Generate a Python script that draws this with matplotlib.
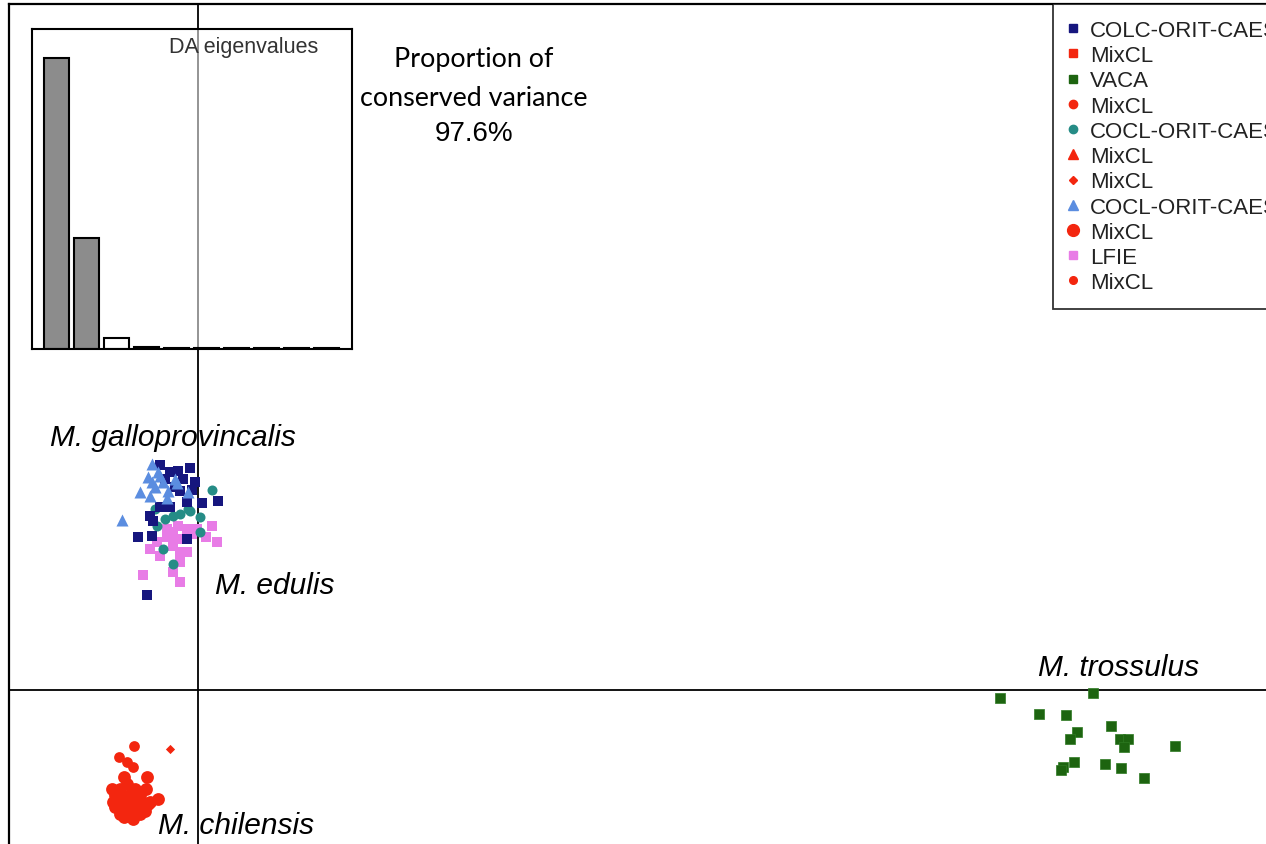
import matplotlib
matplotlib.use("Agg")
import matplotlib.pyplot as plt
from matplotlib.lines import Line2D

# ----------------------------------------------------------------------
#   Data: discriminant function scores (LD1, LD2) per group
# ----------------------------------------------------------------------

gal_tri_x = [-0.66, -0.57, -0.54, -0.66, -0.50, -0.33, -0.30, -0.43, -0.69, -0.44,
             -0.83, -1.09, -0.14, -0.61, -0.71]
gal_tri_y = [3.23, 3.11, 3.06, 2.97, 2.97, 3.01, 2.96, 2.84, 2.77, 2.74,
             2.83, 2.43, 2.83, 2.90, 3.04]

colc_x = [-0.54, -0.29, -0.11, -0.40, -0.47, -0.21, -0.04, -0.26, -0.09, -0.16, 0.06,
          0.29, -0.54, -0.40, -0.69, -0.64, -0.86, -0.66, -0.16, -0.73, -0.33]
colc_y = [3.21, 3.13, 3.17, 3.11, 3.01, 3.01, 2.97, 2.84, 2.86, 2.69, 2.67,
          2.70, 2.61, 2.61, 2.49, 2.41, 2.19, 2.20, 2.16, 1.36, 2.90]

cocl_x = [0.20, -0.11, 0.03, -0.36, -0.47, -0.59, -0.61, 0.03, -0.50, -0.36, -0.14, -0.26]
cocl_y = [2.86, 2.56, 2.47, 2.49, 2.44, 2.34, 2.59, 2.26, 2.01, 1.80, 2.59, 2.51]

lfie_x = [0.20, 0.27, 0.11, -0.16, -0.29, -0.36, -0.44, -0.59, -0.69, -0.54, -0.36,
          -0.26, -0.26, -0.36, -0.26, -0.79, -0.01, -0.09, -0.44, -0.16, -0.30]
lfie_y = [2.34, 2.11, 2.19, 2.30, 2.34, 2.26, 2.19, 2.11, 2.01, 1.91, 2.06,
          1.97, 1.83, 1.69, 1.54, 1.64, 2.30, 2.23, 2.30, 1.97, 2.16]

vaca_x = [11.46, 12.79, 12.01, 12.40, 13.04, 12.56, 12.46, 13.17, 13.29, 13.23, 13.96,
          12.51, 12.36, 12.33, 12.96, 13.19, 13.51]
vaca_y = [-0.11, -0.04, -0.34, -0.36, -0.51, -0.59, -0.69, -0.70, -0.70, -0.81, -0.80,
          -1.03, -1.09, -1.14, -1.06, -1.11, -1.26]

mix_small_x = [-0.91, -1.13, -1.01, -0.93]
mix_small_y = [-0.79, -0.96, -1.03, -1.10]

mix_dia_x = [-0.40]
mix_dia_y = [-0.84]

mix_big_x = [-1.06, -1.01, -0.73, -0.74, -0.57, -0.69, -1.19, -1.23, -1.11, -0.97, -0.83,
             -1.14, -1.00, -0.86, -0.71, -1.11, -0.97, -0.83, -1.19, -0.90, -1.04, -0.76,
             -0.93, -1.09, -1.17, -1.03, -0.89, -0.80, -1.06, -0.94, -1.21]
mix_big_y = [-1.24, -1.34, -1.24, -1.41, -1.56, -1.60, -1.49, -1.41, -1.41, -1.49, -1.49,
             -1.63, -1.63, -1.63, -1.63, -1.77, -1.77, -1.77, -1.67, -1.41, -1.56, -1.73,
             -1.84, -1.73, -1.56, -1.70, -1.70, -1.60, -1.81, -1.55, -1.59]

eigenvalues = [262.0, 100.0, 9.9, 1.8, 1.0, 0.9, 0.8, 0.7, 0.6, 0.5]
n_retained = 2

species = [("M. galloprovincalis", -2.11, 3.61),
           ("M. edulis", 0.24, 1.51),
           ("M. trossulus", 12.00, 0.33),
           ("M. chilensis", -0.57, -1.93)]

legend_labels = ["COLC-ORIT-CAES", "MixCL", "VACA", "MixCL", "COCL-ORIT-CAES", "MixCL",
                 "MixCL", "COCL-ORIT-CAES", "MixCL", "LFIE", "MixCL"]

# ----------------------------------------------------------------------
#   Colours
# ----------------------------------------------------------------------
navy = '#16167e'
red = '#f3260f'
green = '#1d6410'
teal = '#258c86'
lblue = '#5b8de0'
pink = '#e87ce6'

# ----------------------------------------------------------------------
#   Figure
# ----------------------------------------------------------------------
fig = plt.figure(figsize=(12.66, 8.45), dpi=100)
W, H = 1266.0, 845.0

ax = fig.add_axes([9 / W, -15 / H, 1271 / W, 855 / H])
ax.set_xlim(-2.70, 15.46)
ax.set_ylim(-2.41, 9.80)
ax.set_xticks([])
ax.set_yticks([])
for sp in ax.spines.values():
    sp.set_linewidth(1.6)
ax.axvline(0, color='black', lw=1.3, zorder=1)
ax.axhline(0, color='black', lw=1.3, zorder=1)

ax.scatter(mix_big_x, mix_big_y, s=85, marker='o', color=red, lw=0, zorder=3)
ax.scatter(mix_small_x, mix_small_y, s=60, marker='o', color=red, lw=0, zorder=3)
ax.scatter(mix_dia_x, mix_dia_y, s=22, marker='D', color=red, lw=0, zorder=3)
ax.scatter(vaca_x, vaca_y, s=42, marker='s', color=green, edgecolor='#2e7a22', lw=0.5, zorder=3)
ax.scatter(lfie_x, lfie_y, s=50, marker='s', color=pink, lw=0, zorder=3)
ax.scatter(cocl_x, cocl_y, s=52, marker='o', color=teal, lw=0, zorder=4)
ax.scatter(colc_x, colc_y, s=50, marker='s', color=navy, lw=0, zorder=4)
ax.scatter(gal_tri_x, gal_tri_y, s=75, marker='^', color=lblue, lw=0, zorder=5)

for name, x, y in species:
    ax.text(x, y, name, fontsize=21.5, style='italic', family='Liberation Sans',
            ha='left', va='center', zorder=6)

# proportion of variance note
fig.text(474 / W, 1 - 60 / H, 'Proportion of', family='Lato', fontsize=19.4,
         ha='center', va='center')
fig.text(474 / W, 1 - 98 / H, 'conserved variance', family='Lato', fontsize=19.4,
         ha='center', va='center')
fig.text(474 / W, 1 - 134 / H, '97.6%', family='Liberation Sans', fontsize=20,
         ha='center', va='center')

# ----------------------------------------------------------------------
#   Inset: DA eigenvalues
# ----------------------------------------------------------------------
ins = fig.add_axes([32 / W, 495 / H, 320 / W, 320 / H])
ins.patch.set_alpha(0.55)
bar_colors = ['#8c8c8c' if i < n_retained else 'white' for i in range(len(eigenvalues))]
ins.bar(range(len(eigenvalues)), eigenvalues, width=0.83, color=bar_colors,
        edgecolor='black', linewidth=1.5)
ins.set_xlim(-0.82, 9.85)
ins.set_ylim(0, eigenvalues[0] * 320 / 291)
ins.set_xticks([])
ins.set_yticks([])
for sp in ins.spines.values():
    sp.set_linewidth(1.5)
ins.text(0.66, 0.944, 'DA eigenvalues', transform=ins.transAxes, fontsize=15.5,
         family='Liberation Sans', color='#333333', ha='center', va='center')

# ----------------------------------------------------------------------
#   Legend
# ----------------------------------------------------------------------
handles = [
    Line2D([], [], ls='', marker='s', ms=6, color=navy),
    Line2D([], [], ls='', marker='s', ms=6, color=red),
    Line2D([], [], ls='', marker='s', ms=6, color=green),
    Line2D([], [], ls='', marker='o', ms=6, color=red),
    Line2D([], [], ls='', marker='o', ms=6, color=teal),
    Line2D([], [], ls='', marker='^', ms=7.5, color=red),
    Line2D([], [], ls='', marker='D', ms=4.5, color=red),
    Line2D([], [], ls='', marker='^', ms=7.5, color=lblue),
    Line2D([], [], ls='', marker='o', ms=8.5, color=red),
    Line2D([], [], ls='', marker='s', ms=6, color=pink),
    Line2D([], [], ls='', marker='o', ms=5.5, color=red),
]
leg = fig.legend(handles, legend_labels, loc='upper left',
                 bbox_to_anchor=(1053 / W, 1 - 5 / H), frameon=True, fancybox=False,
                 edgecolor='black', prop={'family': 'Liberation Sans', 'size': 16},
                 labelspacing=0.19, handlelength=0.38, handletextpad=0.55,
                 borderpad=0.72, borderaxespad=0)
leg.get_frame().set_linewidth(1.3)
for t in leg.get_texts():
    t.set_color('#222222')

fig.savefig('out.png', dpi=100)
